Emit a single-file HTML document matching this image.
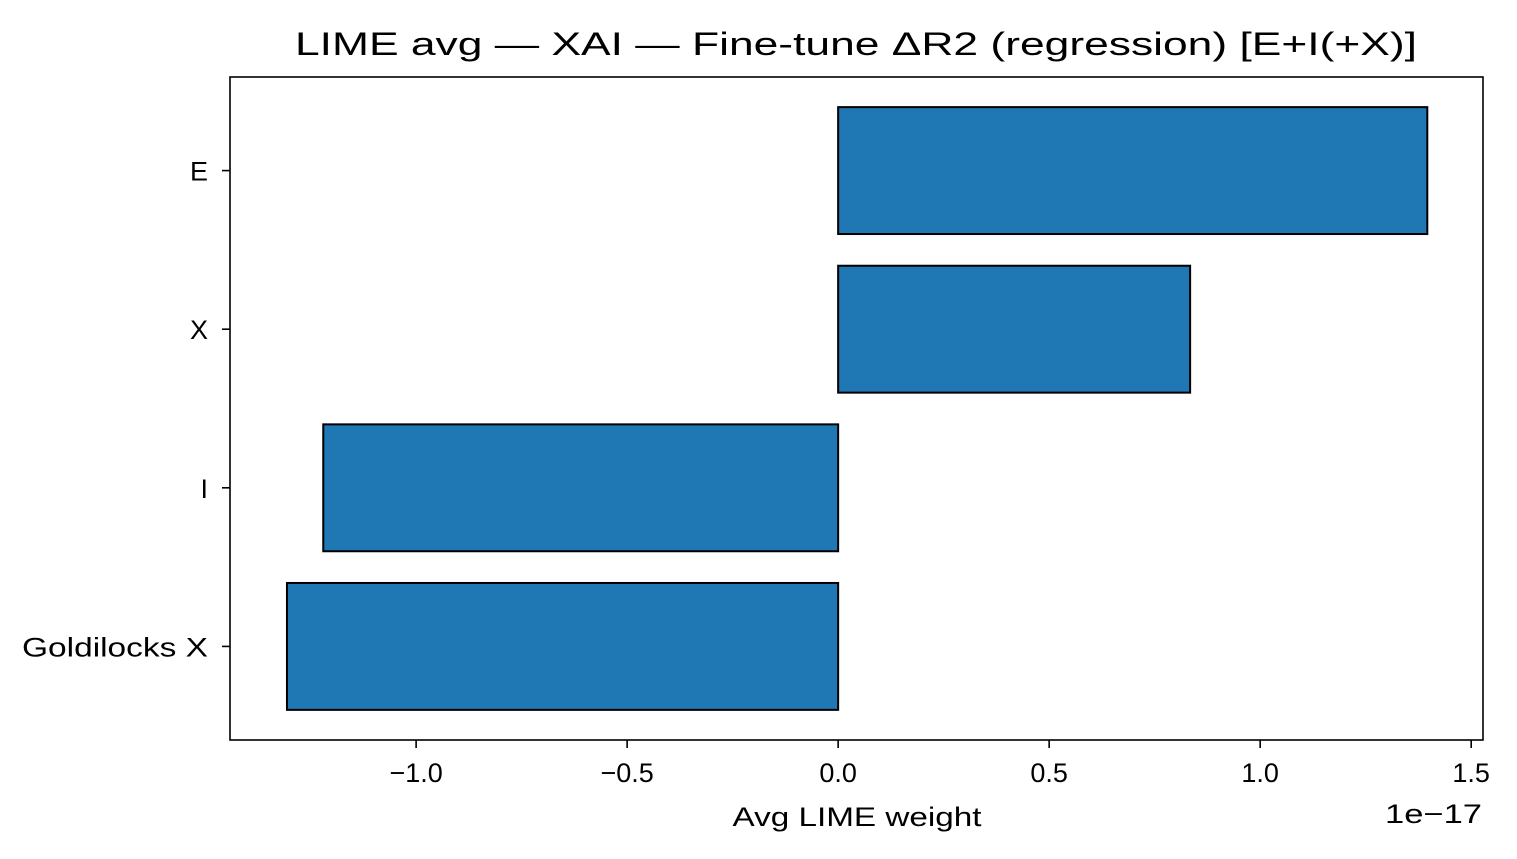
<!DOCTYPE html>
<html><head><meta charset="utf-8"><style>
body{margin:0;background:#fff;}
svg text{font-family:"Liberation Sans","DejaVu Sans",sans-serif;}
</style></head><body>
<svg id="chart" width="1517" height="854">
<text x="856" y="55" font-size="32" text-anchor="middle" textLength="1122" lengthAdjust="spacingAndGlyphs">LIME avg — XAI — Fine-tune ΔR2  (regression) [E+I(+X)]</text>
<g id="plot"></g>
<rect x="230" y="77" width="1253" height="663" fill="none" stroke="#000" stroke-width="1.6"/>
<text x="857" y="826" font-size="27" text-anchor="middle" textLength="249" lengthAdjust="spacingAndGlyphs">Avg LIME weight</text>
<text x="1482" y="823" font-size="27" text-anchor="end" textLength="97" lengthAdjust="spacingAndGlyphs">1e−17</text>
</svg>
<script>
const categories = ["E","X","I","Goldilocks X"];
const values = [1.396, 0.834, -1.220, -1.306];
const xTicks = [-1.0, -0.5, 0.0, 0.5, 1.0, 1.5];
const xTickLabels = ["−1.0","−0.5","0.0","0.5","1.0","1.5"];
const ns="http://www.w3.org/2000/svg";
const L=230,R=1483,T=77,B=740, x0=-1.441, x1=1.528;
const xs=v=>L+(v-x0)/(x1-x0)*(R-L);
const step=(B-T)/(categories.length+0.18);
const ys=i=>T+step*0.59+i*step;
const g=document.getElementById('plot');
function mk(t,a){const e=document.createElementNS(ns,t);for(const k in a)e.setAttribute(k,a[k]);return e;}
categories.forEach((c,i)=>{
  const v=values[i],h=step*0.8,y=ys(i);
  const r=mk('rect',{x:Math.min(xs(0),xs(v)),y:y-h/2,width:Math.abs(xs(v)-xs(0)),height:h,fill:'#1f77b4',stroke:'#000','stroke-width':2});
  
  
  g.appendChild(r);
  const tk=mk('line',{x1:L-8,x2:L,y1:y,y2:y,stroke:'#000','stroke-width':1.6});
  
  
  g.appendChild(tk);
  const t=mk('text',{x:L-22,y:y+10,'font-size':27,'text-anchor':'end'});
  if(c.length>3){t.setAttribute('textLength',186);t.setAttribute('lengthAdjust','spacingAndGlyphs');}
  t.textContent=c;
  
  
  g.appendChild(t);
});
xTicks.forEach((v,i)=>{
  const x=xs(v);
  const tk=mk('line',{x1:x,x2:x,y1:B,y2:B+8,stroke:'#000','stroke-width':1.6});
  
  
  g.appendChild(tk);
  const t=mk('text',{x:x,y:B+42,'font-size':27,'text-anchor':'middle'});
  t.textContent=xTickLabels[i];
  
  
  g.appendChild(t);
});
</script>
</body></html>
